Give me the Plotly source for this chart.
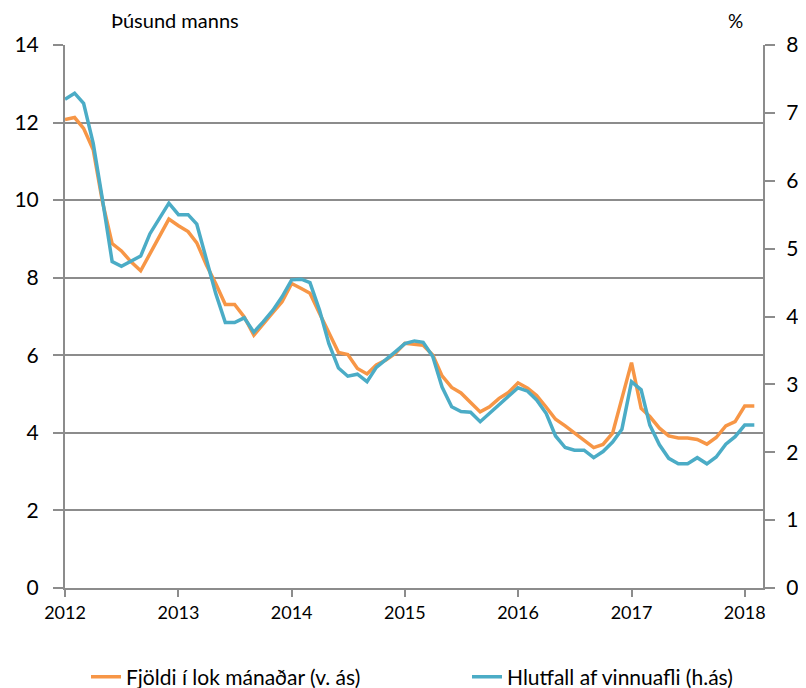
import plotly.graph_objects as go
import pandas as pd

# monthly, Jan 2012 - Feb 2018
months = pd.date_range("2012-01-01", "2018-02-01", freq="MS")

# Fjöldi í lok mánaðar, þúsund manns (left axis)
fjoldi = [
    12.08, 12.13, 11.85, 11.3, 9.95, 8.88, 8.69, 8.41, 8.18, 8.63, 9.1, 9.51,
    9.34, 9.19, 8.9, 8.33, 7.85, 7.31, 7.31, 6.99, 6.52, 6.82, 7.1, 7.38,
    7.85, 7.72, 7.6, 7.08, 6.57, 6.07, 6.02, 5.66, 5.52, 5.75, 5.88, 6.05,
    6.31, 6.29, 6.26, 6.01, 5.47, 5.17, 5.03, 4.78, 4.54, 4.67, 4.89, 5.04,
    5.29, 5.15, 4.96, 4.66, 4.35, 4.18, 4.0, 3.8, 3.62, 3.7, 3.99, 4.89,
    5.81, 4.63, 4.42, 4.12, 3.92, 3.87, 3.87, 3.83, 3.71, 3.88, 4.18, 4.29,
    4.69, 4.69,
]

# Hlutfall af vinnuafli, % (right axis)
hlutfall = [
    7.2, 7.29, 7.14, 6.55, 5.72, 4.81, 4.74, 4.82, 4.89, 5.22, 5.44, 5.67,
    5.5, 5.5, 5.36, 4.83, 4.34, 3.91, 3.91, 3.98, 3.77, 3.92, 4.09, 4.29,
    4.54, 4.55, 4.5, 4.09, 3.6, 3.24, 3.12, 3.15, 3.04, 3.25, 3.36, 3.48,
    3.6, 3.64, 3.62, 3.41, 2.96, 2.67, 2.6, 2.59, 2.45, 2.57, 2.7, 2.82,
    2.95, 2.9, 2.77, 2.57, 2.24, 2.07, 2.03, 2.03, 1.92, 2.01, 2.15, 2.34,
    3.04, 2.92, 2.4, 2.11, 1.91, 1.83, 1.83, 1.92, 1.83, 1.93, 2.12, 2.23,
    2.4, 2.4,
]

font = "Lato, Open Sans, sans-serif"
grey = "#8c8c8c"

# page body has an 8px margin, so the figure is 8px smaller and shifted
W, H = 798, 680
L, R, T, B = 57, 43, 37, 100
pw, ph = W - L - R, H - T - B


def px(sx, sy):
    # screen pixel -> paper coords
    return (sx - 8 - L) / pw, (H - B - (sy - 8)) / ph


fig = go.Figure()
fig.add_trace(go.Scatter(
    x=months, y=fjoldi, name="Fjöldi í lok mánaðar (v. ás)",
    mode="lines", line=dict(color="#f79646", width=3.5), legend="legend",
))
fig.add_trace(go.Scatter(
    x=months, y=hlutfall, name="Hlutfall af vinnuafli (h.ás)",
    mode="lines", line=dict(color="#4bacc6", width=3.5), yaxis="y2",
    legend="legend2",
))

lx1, ly = px(86, 677)
lx2, _ = px(467, 677)
legfont = dict(size=21)

fig.update_layout(
    width=W, height=H,
    margin=dict(l=L, r=R, t=T, b=B, autoexpand=False),
    plot_bgcolor="white", paper_bgcolor="white",
    font=dict(family=font, color="black"),
    showlegend=True,
    legend=dict(x=lx1, xanchor="left", y=ly, yanchor="middle", font=legfont,
                bgcolor="rgba(0,0,0,0)"),
    legend2=dict(x=lx2, xanchor="left", y=ly, yanchor="middle", font=legfont,
                 bgcolor="rgba(0,0,0,0)"),
    xaxis=dict(
        type="date", range=["2012-01-01", "2018-03-01"],
        dtick="M12", tick0="2012-01-01", tickformat="%Y",
        showgrid=False, showline=True, linecolor=grey, linewidth=2,
        ticks="outside", ticklen=7, tickcolor=grey, tickwidth=2,
        tickfont=dict(size=18),
    ),
    yaxis=dict(
        range=[0, 14], dtick=2, showgrid=True, gridcolor=grey, gridwidth=1.5,
        showline=True, linecolor=grey, linewidth=2, zeroline=False,
        ticks="outside", ticklen=10, tickcolor=grey, tickwidth=2,
        tickfont=dict(size=21), ticklabelstandoff=10,
    ),
    yaxis2=dict(
        range=[0, 8], dtick=1, overlaying="y", side="right", showgrid=False,
        showline=True, linecolor=grey, linewidth=2, zeroline=False,
        ticks="outside", ticklen=10, tickcolor=grey, tickwidth=2,
        tickfont=dict(size=21), ticklabelstandoff=7,
    ),
)

tx, ty = px(175, 20)
fig.add_annotation(text="Þúsund manns", x=tx, y=ty, xref="paper", yref="paper",
                   xanchor="center", yanchor="middle", showarrow=False,
                   font=dict(size=20))
tx, ty = px(735, 20)
fig.add_annotation(text="%", x=tx, y=ty, xref="paper", yref="paper",
                   xanchor="center", yanchor="middle", showarrow=False,
                   font=dict(size=19))

fig.write_html("out.html")
